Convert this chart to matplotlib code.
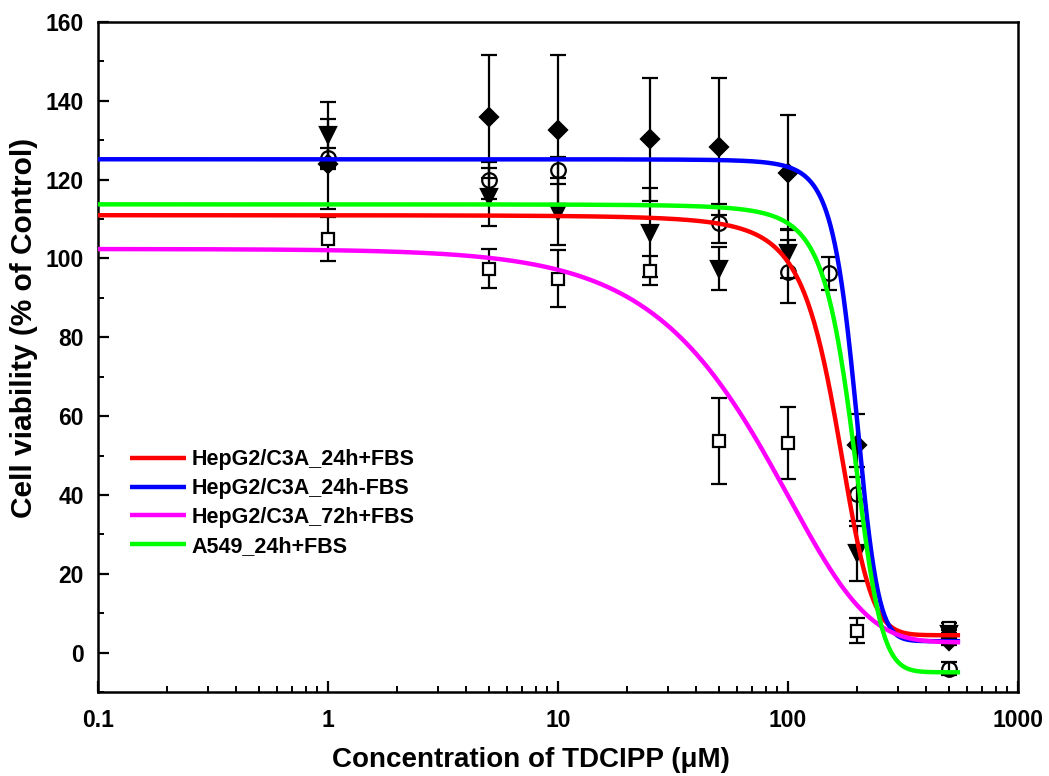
import numpy as np
import matplotlib
matplotlib.use('Agg')
import matplotlib.pyplot as plt
from matplotlib.ticker import FixedLocator, MultipleLocator, NullFormatter, FixedFormatter

plt.rcParams['font.family'] = ['Liberation Sans', 'DejaVu Sans']
plt.rcParams['font.weight'] = 'bold'

# ---------------- data ----------------
conc = [1, 5, 10, 25, 50, 100, 200, 500]
conc_a549 = [1, 5, 10, 50, 100, 150, 200, 500]

hep24_fbs_mean = [131.3, 115.6, 111.8, 106.5, 97.4, 101.3, 25.2, 4.8]
hep24_fbs_sd = [8.5, 7.3, 8.5, 11.3, 5.5, 6.3, 7.0, 1.0]
hep24_nofbs_mean = [124.0, 136.0, 132.7, 130.2, 128.4, 121.8, 52.6, 3.0]
hep24_nofbs_sd = [11.5, 15.6, 19.0, 15.7, 17.3, 14.6, 8.0, 1.0]
hep72_fbs_mean = [104.9, 97.4, 94.9, 96.9, 53.8, 53.2, 5.6, 6.2]
hep72_fbs_sd = [5.5, 5.0, 7.2, 3.7, 10.9, 9.2, 3.2, 1.2]
a549_mean = [125.6, 119.9, 122.4, 108.9, 96.6, 96.2, 40.3, -4.1]
a549_sd = [2.5, 4.7, 3.4, 5.0, 8.0, 4.2, 6.8, 1.6]

# fitted dose-response curves (parameters estimated from the drawn curves)
curve_labels = ['HepG2/C3A_24h+FBS', 'HepG2/C3A_24h-FBS',
                'HepG2/C3A_72h+FBS', 'A549_24h+FBS']
curve_colors = ['#FF0000', '#0000FF', '#FF00FF', '#00FF00']
curve_model = ['boltzmann', 'boltzmann', 'weibull', 'boltzmann']
curve_top = [111.5, 125.2, 102.4, 113.9]
curve_bottom = [4.4, 2.9, 2.6, -5.0]
curve_center = [162.0, 195.7, 101.0, 190.7]
curve_shape = [30.5, 23.3, 1.26, 29.0]

x_ticks = [0.1, 1, 10, 100, 1000]
x_ticklabels = ['0.1', '1', '10', '100', '1000']
y_ticks = [0, 20, 40, 60, 80, 100, 120, 140, 160]

# ---------------- figure ----------------
fig = plt.figure(figsize=(10.49, 7.76), dpi=100)
ax = fig.add_axes([98 / 1049, 1 - 692 / 776, 920 / 1049, 670 / 776])

eb_kw = dict(color='black', ecolor='black', elinewidth=1.6, capsize=5.5,
             capthick=1.6, linestyle='none', mew=1.6)

ax.errorbar(conc, hep72_fbs_mean, yerr=hep72_fbs_sd, fmt='s', ms=9,
            mfc='white', mec='black', zorder=2, **eb_kw)
ax.errorbar(conc_a549, a549_mean, yerr=a549_sd, fmt='o', ms=10.5,
            mfc='none', mec='black', zorder=2, **eb_kw)
ax.errorbar(conc, hep24_fbs_mean, yerr=hep24_fbs_sd, fmt='v', ms=11.5,
            mfc='black', mec='black', zorder=2, **eb_kw)
ax.errorbar(conc, hep24_nofbs_mean, yerr=hep24_nofbs_sd, fmt='D', ms=9.5,
            mfc='black', mec='black', zorder=2, **eb_kw)

xs = np.logspace(-1, np.log10(560), 800)
for lab, col, mod, top, bot, cen, shp in zip(curve_labels, curve_colors, curve_model,
                                              curve_top, curve_bottom,
                                              curve_center, curve_shape):
    if mod == 'boltzmann':
        ys = bot + (top - bot) / (1 + np.exp((xs - cen) / shp))
    else:
        ys = bot + (top - bot) * np.exp(-(xs / cen) ** shp)
    ax.plot(xs, ys, color=col, lw=3.2, label=lab, zorder=5,
            solid_capstyle='butt')

ax.set_xscale('log')
ax.set_xlim(0.1, 1000)
ax.set_ylim(-10, 160)

ax.xaxis.set_major_locator(FixedLocator(x_ticks))
ax.xaxis.set_major_formatter(FixedFormatter(x_ticklabels))
minors = [m * d for d in [0.1, 1, 10, 100] for m in range(2, 10)]
ax.xaxis.set_minor_locator(FixedLocator(minors))
ax.xaxis.set_minor_formatter(NullFormatter())
ax.yaxis.set_major_locator(FixedLocator(y_ticks))
ax.yaxis.set_minor_locator(MultipleLocator(10))

for s in ax.spines.values():
    s.set_linewidth(1.8)
ax.tick_params(axis='x', which='major', pad=12)
ax.tick_params(axis='y', which='major', pad=10)
ax.tick_params(which='major', direction='in', length=8, width=1.6,
               labelsize=16.5, top=False, right=False)
ax.tick_params(which='minor', direction='in', length=4.5, width=1.4,
               top=False, right=False)
for lbl in ax.get_xticklabels() + ax.get_yticklabels():
    lbl.set_fontweight('bold')

ax.set_xlabel('Concentration of TDCIPP (\u03bcM)', fontsize=20, fontweight='bold')
ax.xaxis.set_label_coords(0.471, -0.082)
ax.set_ylabel('Cell viability (% of Control)', fontsize=21.5, fontweight='bold')
ax.yaxis.set_label_coords(-0.065, 0.543)

leg = ax.legend(loc='upper left', bbox_to_anchor=(0.035, 0.362), frameon=False,
                fontsize=15.5, handlelength=2.6, handletextpad=0.25,
                labelspacing=0.36, borderpad=0, borderaxespad=0)
for t in leg.get_texts():
    t.set_fontweight('bold')

fig.savefig('out.png', dpi=100)
